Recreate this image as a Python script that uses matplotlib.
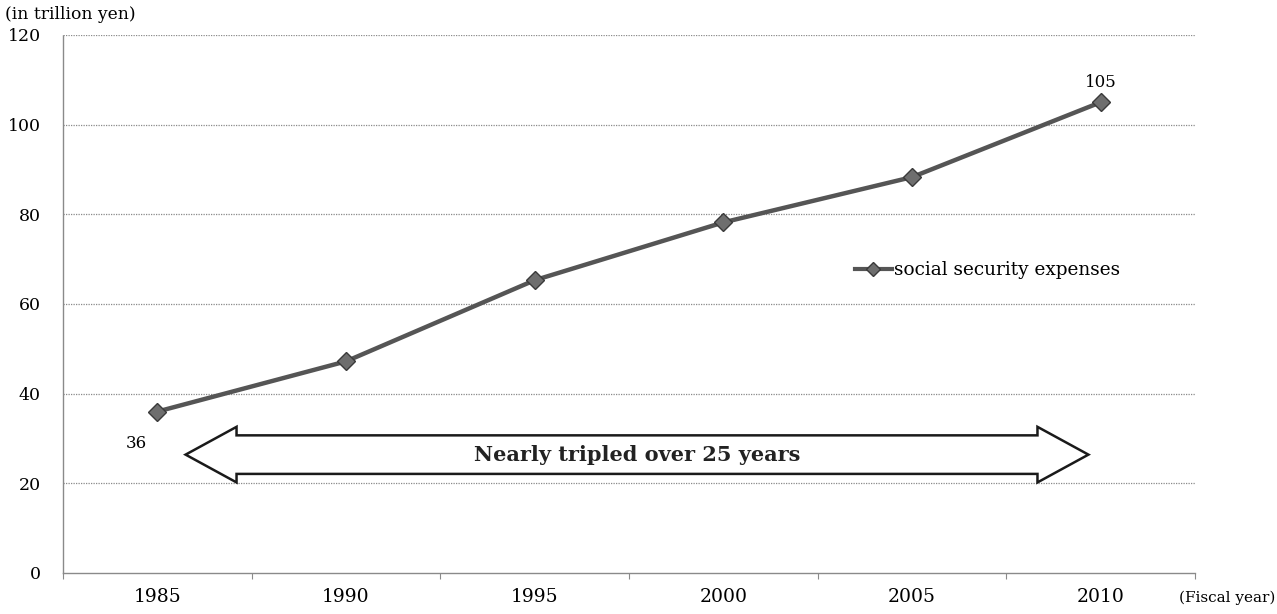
import matplotlib
matplotlib.use('Agg')
import matplotlib.pyplot as plt
import matplotlib.patches as mpatches
from matplotlib.lines import Line2D
import numpy as np

plt.rcParams['font.family'] = 'DejaVu Serif'

years = ['1985', '1990', '1995', '2000', '2005', '2010']
expenses = [36, 47.2, 65.3, 78.2, 88.3, 105]
y_ticks = [0, 20, 40, 60, 80, 100, 120]

line_col = '#555555'
grid_col = '#8a8a8a'

fig = plt.figure(figsize=(12.77, 6.14), dpi=100)
ax = fig.add_axes([0.0493, 0.0668, 0.8865, 0.8762])

x = np.arange(len(years))
ax.plot(x, expenses, color=line_col, linewidth=3.2, marker='D', markersize=9,
        markerfacecolor='#6e6e6e', markeredgecolor='#3a3a3a', markeredgewidth=1, zorder=3)

ax.set_xlim(-0.5, len(years) - 0.5)
ax.set_ylim(0, 120)
ax.set_yticks(y_ticks)
ax.set_yticklabels([str(v) for v in y_ticks], fontsize=12.5)
ax.tick_params(axis='y', length=0, pad=16)

# category labels centred, tick marks on the band boundaries
ax.set_xticks(x)
ax.set_xticklabels(years, fontsize=13.5)
ax.set_xticks(np.arange(-0.5, len(years)), minor=True)
ax.tick_params(axis='x', which='major', length=0, pad=11)
ax.tick_params(axis='x', which='minor', length=4, color=grid_col, width=0.8)

for s in ['top', 'right']:
    ax.spines[s].set_visible(False)
for s in ['left', 'bottom']:
    ax.spines[s].set_color(grid_col)
    ax.spines[s].set_linestyle((0, (1, 1)))
    ax.spines[s].set_linewidth(1.0)

for v in y_ticks[1:]:
    ax.axhline(v, color=grid_col, linestyle=(0, (1, 1)), linewidth=0.9, zorder=1)

# value labels on the end points
ax.annotate(f'{expenses[0]:g}', (x[0], expenses[0]), xytext=(-15, -23),
            textcoords='offset points', ha='center', va='center', fontsize=12)
ax.annotate(f'{expenses[-1]:g}', (x[-1], expenses[-1]), xytext=(0, 14),
            textcoords='offset points', ha='center', va='center', fontsize=12)

# double-headed block arrow
x0, x1, yc = 0.15, 4.935, 26.4
shaft, head, head_len = 4.3, 6.2, 0.27
pts = [(x0, yc), (x0 + head_len, yc + head), (x0 + head_len, yc + shaft),
       (x1 - head_len, yc + shaft), (x1 - head_len, yc + head), (x1, yc),
       (x1 - head_len, yc - head), (x1 - head_len, yc - shaft),
       (x0 + head_len, yc - shaft), (x0 + head_len, yc - head)]
ax.add_patch(mpatches.Polygon(pts, closed=True, facecolor='white',
                              edgecolor='#1a1a1a', linewidth=1.8, zorder=4))
ax.text((x0 + x1) / 2, yc, 'Nearly tripled over 25 years', ha='center', va='center',
        fontsize=15, fontweight='bold', color='#222222', zorder=5)

handle = Line2D([], [], color=line_col, linewidth=3, marker='D', markersize=7,
                markerfacecolor='#6e6e6e', markeredgecolor='#3a3a3a')
ax.legend([handle], ['social security expenses'], loc='center left',
          bbox_to_anchor=(0.693, 0.563), frameon=False, fontsize=13.3,
          handlelength=2.0, handletextpad=0.1, borderaxespad=0)

fig.text(0.004, 0.977, '(in trillion yen)', fontsize=12.3, va='center', ha='left')
fig.text(0.999, 0.026, '(Fiscal year)', fontsize=11, va='center', ha='right')

fig.savefig('out.png', dpi=100)
